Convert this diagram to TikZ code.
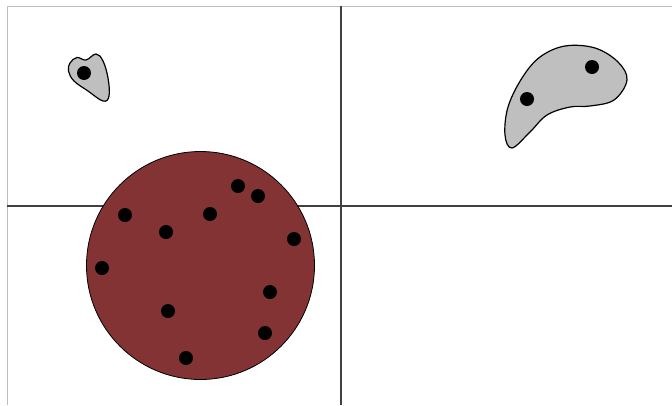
\documentclass[tikz,border=0pt]{standalone}
\begin{document}
\begin{tikzpicture}[x=1pt,y=-1pt,
  dot/.style={circle,fill=black,inner sep=0pt,minimum size=14pt},
  blob/.style={draw=black,line width=1.2pt,fill=gray!50},
  axis/.style={draw=black!75,line width=1.2pt},
  frame/.style={draw=black!25,line width=1pt}]
\useasboundingbox (0,0) rectangle (672,405);
\fill[white] (0,0) rectangle (672,405);
\draw[frame] (7,405) -- (7,6) -- (672,6);
\coordinate (hl) at (7,206);
\coordinate (hr) at (672,206);
\coordinate (vt) at (341,6);
\coordinate (vb) at (341,405);
\draw[axis] (hl) -- (hr);
\draw[axis] (vt) -- (vb);
% big circle
\node[circle,draw=black,line width=0.8pt,fill={rgb,255:red,131;green,51;blue,51},minimum size=228pt,inner sep=0pt] (c) at (200.5,265.5) {};
\foreach \p/\n in {{(125,215)}/a,{(210,214)}/b,{(238,186)}/c1,{(258,196)}/d,{(166,232)}/e,{(294,239)}/f,{(102,268)}/g,{(270,292)}/h,{(168,311)}/i,{(265,333)}/j,{(186,358)}/k}
  \node[dot] (\n) at \p {};
% small blob
\draw[blob] plot[smooth cycle,tension=0.65] coordinates {(70,63) (77,57.5) (86,60) (96,54) (103,61) (108,78) (109,96) (103,101) (88,91) (74,81) (68.5,71)};
\node[dot] (s1) at (84,73) {};
% large blob
\draw[blob] plot[smooth cycle,tension=0.6] coordinates {(512,148) (505,135) (508,107) (522,78) (540,57) (565,46) (595,48) (618,62) (627,80) (614,100) (590,106) (570,107) (547,115) (530,132)};
\node[dot] (l1) at (527,99) {};
\node[dot] (l2) at (592,67) {};
\end{tikzpicture}
\end{document}
